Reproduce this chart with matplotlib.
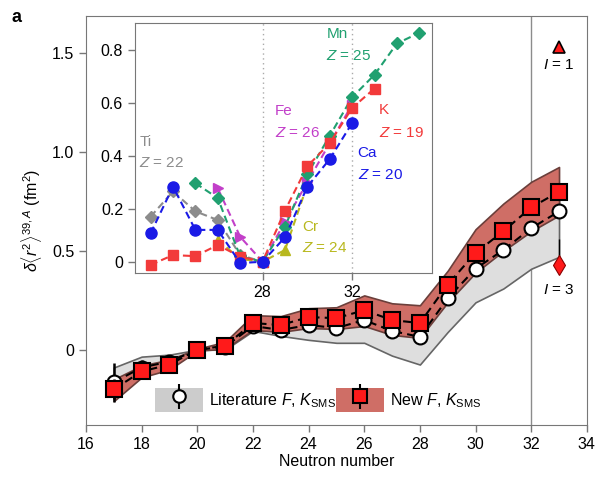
import matplotlib
matplotlib.use("Agg")
import matplotlib.pyplot as plt
from matplotlib.patches import Patch
from matplotlib.lines import Line2D

plt.rcParams["font.family"] = ["Liberation Sans", "DejaVu Sans"]
plt.rcParams["mathtext.fontset"] = "custom"
plt.rcParams["mathtext.rm"] = "Liberation Sans"
plt.rcParams["mathtext.it"] = "Liberation Sans:italic"
plt.rcParams["mathtext.bf"] = "Liberation Sans:bold"

# ── main panel: K isotopes relative to 39K ──
n_main = [17, 18, 19, 20, 21, 22, 23, 24, 25, 26, 27, 28, 29, 30, 31, 32, 33]
new_f = [-0.20, -0.11, -0.075, 0.0, 0.02, 0.135, 0.125, 0.165, 0.16, 0.20, 0.15, 0.135,
         0.33, 0.49, 0.60, 0.72, 0.80]
new_err = [0.05, 0.03, 0.02, 0.01, 0.01, 0.01, 0.01, 0.01, 0.01, 0.01, 0.01, 0.01,
           0.01, 0.01, 0.01, 0.01, 0.01]
new_lo = [-0.26, -0.14, -0.10, -0.005, 0.005, 0.10, 0.09, 0.11, 0.105, 0.12, 0.075, 0.06,
          0.24, 0.39, 0.50, 0.60, 0.68]
new_hi = [-0.15, -0.08, -0.05, 0.005, 0.04, 0.175, 0.17, 0.21, 0.215, 0.275, 0.235, 0.225,
          0.40, 0.61, 0.74, 0.85, 0.925]
lit_f = [-0.165, -0.09, -0.06, 0.0, 0.015, 0.12, 0.10, 0.125, 0.11, 0.15, 0.095, 0.065,
         0.26, 0.41, 0.505, 0.615, 0.70]
lit_err = [0.10, 0.04, 0.015, 0.01, 0.01, 0.01, 0.01, 0.01, 0.01, 0.01, 0.01, 0.01,
           0.01, 0.01, 0.01, 0.01, 0.01]
lit_lo = [-0.19, -0.125, -0.085, 0.0, 0.0, 0.095, 0.07, 0.05, 0.035, 0.035, -0.03, -0.075,
          0.09, 0.24, 0.31, 0.41, 0.47]
lit_hi = [-0.09, -0.035, -0.025, 0.0, 0.03, 0.14, 0.13, 0.16, 0.155, 0.19, 0.14, 0.12,
          0.32, 0.48, 0.59, 0.72, 0.80]

# states of 52K (N = 33)
spin_n = 33
spin1_val, spin1_err = 1.53, 0.03
spin3_val, spin3_err = 0.43, 0.13

# ── inset: other elements, relative to N = 28 ──
k_n = [23, 24, 25, 26, 27, 28, 29, 30, 31, 32, 33]
k_v = [-0.012, 0.025, 0.021, 0.063, 0.019, 0.0, 0.193, 0.36, 0.447, 0.58, 0.653]
ca_n = [23, 24, 25, 26, 27, 28, 29, 30, 31, 32]
ca_v = [0.107, 0.283, 0.12, 0.12, -0.005, 0.0, 0.092, 0.283, 0.387, 0.523]
ti_n = [23, 24, 25, 26, 27, 28]
ti_v = [0.17, 0.265, 0.19, 0.157, 0.025, 0.0]
mn_n = [25, 26, 27, 28, 29, 30, 31, 32, 33, 34, 35]
mn_v = [0.296, 0.24, 0.02, 0.0, 0.132, 0.33, 0.475, 0.62, 0.705, 0.823, 0.863]
fe_n = [26, 27, 28, 29, 30, 31, 32]
fe_v = [0.277, 0.094, 0.0, 0.15, 0.30, 0.447, 0.592]
cr_n = [26, 27, 28, 29, 30]
cr_v = [0.082, 0.01, 0.0, 0.044, 0.29]

RED = "#ff1a1a"
BAND_RED = "#cf6e66"
BAND_GRAY = "#dedede"

fig = plt.figure(figsize=(5.97, 4.8), dpi=100)
ax = fig.add_axes([0.144, 0.115, 0.839, 0.852])

ax.fill_between(n_main, lit_lo, lit_hi, facecolor=BAND_GRAY, edgecolor="#666666", lw=1.2, zorder=1)
ax.fill_between(n_main, new_lo, new_hi, facecolor=BAND_RED, edgecolor="#6b3f3b", lw=1.2, zorder=2)
ax.axvline(32, color="#8c8c8c", lw=1.0, zorder=0)

ax.errorbar(n_main, lit_f, yerr=lit_err, fmt="o--", color="black", mfc="white", mec="black",
            ms=10, mew=1.5, lw=1.5, dashes=(4, 2.5), elinewidth=1.8, capsize=0, zorder=3)
ax.errorbar(n_main, new_f, yerr=new_err, fmt="s--", color="black", mfc=RED, mec="black",
            ms=11, mew=1.5, lw=1.5, dashes=(4, 2.5), elinewidth=1.8, capsize=0, zorder=4)

ax.errorbar([spin_n], [spin1_val], yerr=[spin1_err], fmt="^", color="black", mfc=RED,
            mec="black", ms=9, mew=1.2, elinewidth=1.5, capsize=0, zorder=5)
ax.errorbar([spin_n], [spin3_val], yerr=[[0], [spin3_err]], fmt="d", color="black",
            mfc=RED, mec="#8a0000", ms=10, mew=0.8, elinewidth=1.0, capsize=0, zorder=5)
ax.text(spin_n, spin1_val - 0.09, "$I$ = 1", ha="center", va="center", fontsize=11)
ax.text(spin_n, spin3_val - 0.13, "$I$ = 3", ha="center", va="center", fontsize=11)

ax.set_xlim(16, 34)
ax.set_ylim(-0.38, 1.69)
ax.set_xticks([16, 18, 20, 22, 24, 26, 28, 30, 32, 34])
ax.set_yticks([0, 0.5, 1.0, 1.5])
ax.set_yticklabels(["0", "0.5", "1.0", "1.5"])
ax.tick_params(labelsize=11.5, direction="out", length=5, color="#777777", width=1)
for s in ax.spines.values():
    s.set_color("#777777")
ax.set_xlabel("Neutron number", fontsize=11.5, labelpad=2)
ax.set_ylabel(r"$\delta\langle r^2\rangle^{39,A}$ (fm$^2$)", fontsize=11.5, labelpad=6)

lit_handle = (Patch(facecolor="#cccccc", edgecolor="none"),
              Line2D([], [], marker="|", color="black", ms=18, mew=1.5, ls="none"),
              Line2D([], [], marker="o", mfc="white", mec="black", ms=9, mew=1.5, ls="none"))
new_handle = (Patch(facecolor=BAND_RED, edgecolor="none"),
              Line2D([], [], marker="|", color="black", ms=18, mew=1.5, ls="none"),
              Line2D([], [], marker="s", mfc=RED, mec="black", ms=10, mew=1.5, ls="none"))
ax.legend([lit_handle, new_handle],
          [r"Literature $F$, $K_{\mathrm{SMS}}$", r"New $F$, $K_{\mathrm{SMS}}$"],
          loc="lower left", bbox_to_anchor=(0.115, 0.005), ncol=2, frameon=False,
          fontsize=11.5, handlelength=3.0, handleheight=1.9, handletextpad=0.4,
          columnspacing=0.0, borderpad=0.2)

fig.text(0.02, 0.955, "a", fontsize=13, fontweight="bold")

# ── inset ──
ins = fig.add_axes([0.226, 0.431, 0.497, 0.521])
ins.axvline(28, color="#aaaaaa", ls=(0, (1, 2.5)), lw=1.0, zorder=0)
ins.axvline(32, color="#aaaaaa", ls=(0, (1, 2.5)), lw=1.0, zorder=0)

series = [
    (ti_n, ti_v, "#8c8c8c", "D", 6),
    (cr_n, cr_v, "#b8b81e", "^", 7),
    (fe_n, fe_v, "#c23fc9", ">", 7),
    (mn_n, mn_v, "#20a070", "D", 6),
    (k_n, k_v, "#f23a3a", "s", 7),
    (ca_n, ca_v, "#1a1ae6", "o", 8),
]
for xs, ys, col, mk, sz in series:
    ins.plot(xs, ys, ls="--", dashes=(3.5, 2), color=col, lw=1.5, marker=mk, ms=sz,
             mfc=col, mec=col)

ins.text(22.5, 0.452, "Ti", color="#8c8c8c", fontsize=11, va="center")
ins.text(22.5, 0.373, "$Z$ = 22", color="#8c8c8c", fontsize=11, va="center")
ins.text(28.55, 0.567, "Fe", color="#c23fc9", fontsize=11, va="center")
ins.text(28.55, 0.486, "$Z$ = 26", color="#c23fc9", fontsize=11, va="center")
ins.text(30.85, 0.857, "Mn", color="#20a070", fontsize=11, va="center")
ins.text(30.85, 0.775, "$Z$ = 25", color="#20a070", fontsize=11, va="center")
ins.text(33.2, 0.573, "K", color="#f23a3a", fontsize=11, va="center")
ins.text(33.2, 0.485, "$Z$ = 19", color="#f23a3a", fontsize=11, va="center")
ins.text(32.25, 0.41, "Ca", color="#1a1ae6", fontsize=11, va="center")
ins.text(32.25, 0.328, "$Z$ = 20", color="#1a1ae6", fontsize=11, va="center")
ins.text(29.75, 0.132, "Cr", color="#b8b81e", fontsize=11, va="center")
ins.text(29.75, 0.05, "$Z$ = 24", color="#b8b81e", fontsize=11, va="center")

ins.set_xlim(22.3, 35.55)
ins.set_ylim(-0.043, 0.90)
ins.set_xticks([28, 32])
ins.set_yticks([0, 0.2, 0.4, 0.6, 0.8])
ins.set_yticklabels(["0", "0.2", "0.4", "0.6", "0.8"])
ins.tick_params(labelsize=11.5, direction="out", length=5, color="#777777", width=1)
for s in ins.spines.values():
    s.set_color("#777777")

fig.savefig("out.png", dpi=100)
